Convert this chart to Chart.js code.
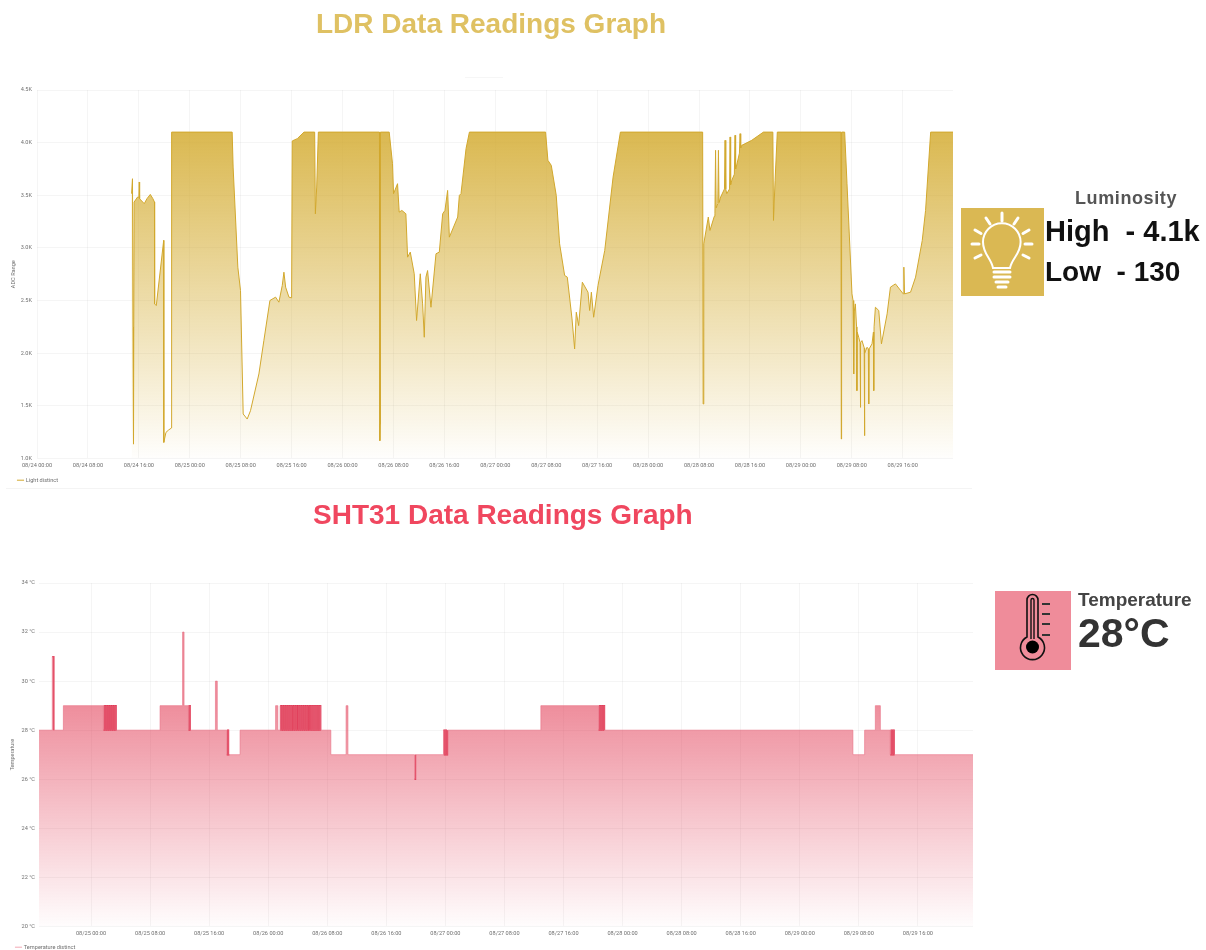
<!DOCTYPE html>
<html>
<head>
<meta charset="utf-8">
<script src="https://cdn.jsdelivr.net/npm/chart.js@4"></script>
<style>
html,body{margin:0;padding:0;background:#fff;width:1206px;height:950px;overflow:hidden;font-family:"Liberation Sans",Arial,sans-serif}
.abs{position:absolute}
canvas{position:absolute;filter:blur(.55px)}
.soft{filter:blur(.5px);white-space:pre;font-weight:bold;line-height:1}
</style>
</head>
<body>
<div class="abs soft" style="left:316px;top:10px;font-size:28px;color:#DFC163">LDR Data Readings Graph</div>
<div class="abs soft" style="left:313px;top:501px;font-size:28px;color:#F0475F">SHT31 Data Readings Graph</div>

<div class="abs" style="left:6px;top:488px;width:966px;height:1px;background:#f4f4f4"></div>
<div class="abs" style="left:465px;top:77px;width:38px;height:1px;background:#f6f6f6"></div>

<div style="position:absolute;left:0;top:80px;width:975px;height:413px"><canvas id="ldr"></canvas></div>
<div style="position:absolute;left:0;top:573px;width:985px;height:387px"><canvas id="sht"></canvas></div>

<svg class="abs" style="left:961px;top:208px;filter:blur(.4px)" width="83" height="88" viewBox="0 0 83 88">
  <rect width="83" height="88" fill="#DAB853"/>
  <g fill="none" stroke="#fff" stroke-linecap="round">
    <path stroke-width="2" d="M32 60 C30 50 22 46 22 34 A18.8 18.8 0 0 1 59.6 34 C59.6 46 51 50 49 60 Z"/>
    <g stroke-width="3">
      <path d="M41 5V13M25 10l4 6M57 10l-4 6M14 22l6 3.5M68 22l-6 3.5M11 36h7M71 36h-7M14 50l6-3M68 50l-6-3"/>
      <path d="M33 64H49M33 69H49M35 74H47M37 79H45"/>
    </g>
  </g>
</svg>
<div class="abs soft" style="left:1075px;top:189px;font-size:18px;letter-spacing:.6px;color:#555">Luminosity</div>
<div class="abs soft" style="left:1045px;top:217px;font-size:29px;color:#111">High  - 4.1k</div>
<div class="abs soft" style="left:1045px;top:258px;font-size:28px;color:#111">Low  - 130</div>

<svg class="abs" style="left:995px;top:591px;filter:blur(.4px)" width="76" height="79" viewBox="0 0 76 79">
  <rect width="76" height="79" fill="#EF8C9A"/>
  <g fill="none" stroke="#111">
    <path stroke-width="1.6" d="M32 46V9a5.5 5.5 0 0 1 11 0V46a12 12 0 1 1-11 0Z"/>
    <path stroke-width="1.4" d="M36 48V9a1.5 1.5 0 0 1 3 0V48"/>
    <path stroke-width="2" stroke="#333" d="M47 13h8M47 23h8M47 33h8M47 44h8"/>
  </g>
  <circle cx="37.5" cy="56" r="6.5" fill="#000"/>
</svg>
<div class="abs soft" style="left:1078px;top:590px;font-size:19px;color:#444">Temperature</div>
<div class="abs soft" style="left:1078px;top:613px;font-size:41px;color:#333">28°C</div>

<script>
const ldrHours = [
 14.86,15.0,15.1,15.12,15.2,15.25,15.33,15.8,16.0,16.06,16.12,16.85,17.27,17.8,18.21,18.46,18.48,18.74,19.9,19.92,20.26,20.68,21.13,21.15,
 30.66,30.81,31.55,31.97,32.39,33.02,33.54,34.86,35.64,36.59,37.48,38.0,38.53,38.79,39.06,39.58,40.0,40.1,40.89,41.94,43.62,43.73,43.94,44.2,
 53.8,53.86,53.9,53.95,55.33,55.85,56.01,56.64,56.9,57.32,57.95,58.22,58.64,59.26,59.63,60.21,60.58,60.84,61.1,61.36,61.89,62.68,63.2,63.73,64.09,64.51,64.78,66.09,66.35,66.61,67.4,67.93,
 79.9,80.26,80.79,81.57,82.1,82.89,83.31,84.05,84.46,84.72,85.09,85.67,86.56,86.82,87.09,87.45,88.13,89.19,90.5,91.65,
 104.57,104.65,104.75,105.46,105.72,106.4,106.5,106.6,106.7,106.95,107.05,107.15,107.4,108.0,108.09,108.2,108.35,108.8,108.88,108.97,109.14,109.55,109.66,109.75,109.82,110.35,110.45,110.55,110.71,112.28,114.12,115.6,115.7,115.95,116.3,
 126.3,126.35,126.4,126.88,127.25,128.03,128.2,128.3,128.4,128.56,128.75,128.8,128.85,129.09,129.3,129.35,129.4,129.6,129.95,129.99,130.05,130.4,130.6,130.66,130.72,131.18,131.4,131.45,131.5,131.71,132.24,132.66,133.55,134.07,134.86,136.08,136.18,136.28,137.23,138.02,139.07,139.59,140.39,143.9];
const ldrValues = [
 3515,3657,2246,1247,1136,3435,3435,3483,3480,3626,3467,3420,3467,3508,3467,3435,2468,2452,3071,1152,1247,1270,1289,4100,
 4100,3768,2817,2595,1422,1374,1453,1802,2119,2500,2532,2484,2643,2769,2627,2532,2525,4016,4038,4100,4100,3324,3578,4100,
 4100,1168,1327,4100,4100,3800,3515,3610,3340,3356,3324,2912,2960,2754,2310,2754,2468,2151,2722,2785,2436,2944,2960,3324,3356,3546,3102,3293,3499,3515,3943,4100,
 4100,3832,3784,3499,3039,2738,2722,2325,2040,2389,2262,2674,2579,2405,2579,2341,2643,2976,3673,4100,
 4100,1517,3039,3293,3166,3300,3324,3927,3380,3420,3927,3430,3483,3560,4022,3560,3515,3560,4054,3600,3640,3700,4070,3750,3760,3900,4085,3950,3974,4022,4100,4100,3261,3641,4100,
 4100,1184,4100,4100,3610,2563,2500,1802,2400,2468,2250,1644,2200,2151,2100,1485,2100,2119,2050,1216,2000,2056,2040,1517,2040,2088,2200,1644,2250,2436,2405,2088,2373,2627,2658,2563,2817,2563,2579,2722,3071,3356,4100,4100];

const tempHours = [
 16.95,18.75,18.95,20.25,
 25.67,25.8,25.93,26.06,26.19,26.32,26.45,26.58,26.71,26.84,26.97,27.1,27.23,27.36,27.39,
 33.35,36.4,36.6,37.19,37.3,37.42,37.5,
 40.85,41.1,42.38,42.5,42.62,42.74,44.19,
 49.0,49.3,49.61,49.74,49.87,50.0,50.13,50.26,50.39,50.52,50.65,50.78,50.91,51.04,51.17,51.36,51.49,51.62,51.75,51.88,52.07,52.2,52.33,52.46,52.59,52.72,52.85,52.98,53.11,53.24,53.37,53.56,53.75,53.88,54.01,54.14,54.27,54.4,54.53,54.66,54.79,54.92,55.03,55.1,
 56.48,58.55,58.8,67.82,67.95,
 71.74,71.87,72.0,72.13,72.28,
 84.93,92.74,92.87,93.0,93.13,93.26,93.39,93.55,
 127.2,128.79,130.24,130.92,132.26,132.39,132.52,132.65,132.78,132.85,143.47];
const tempValues = [
 28,31,28,29,
 28,29,28,29,28,29,28,29,28,29,28,29,28,29,28,
 29,32,29,28,29,28,28,
 30,28,27,28,27,27,28,
 29,28,
 29,28,29,28,29,28,29,28,29,28,29,28,29,28,29,28,29,28,29,28,29,28,29,28,29,28,29,28,29,28,29,28,29,28,29,28,29,28,29,28,29,28,
 27,29,27,26,27,
 28,27,28,27,28,
 29,28,29,28,29,28,29,28,
 27,28,29,28,27,28,27,28,27,27,27];

const ldrYTicks = {min:1000,max:4500,step:500};
const tempYTicks = {min:20,max:34,step:2};
const tickColor = '#707070';
const gridColor = 'rgba(0,0,0,0.04)';
const smallFont = {family:'Roboto',size:5.6};

function hourLabel(h){
  const d = 24 + Math.floor(h/24), hh = h % 24;
  return '08/' + d + ' ' + String(hh).padStart(2,'0') + ':00';
}
function fillGradient(rgb, topAlpha, topValue){
  return function(ctx){
    const c = ctx.chart, a = c.chartArea;
    if(!a) return 'transparent';
    const g = c.ctx.createLinearGradient(0, c.scales.y.getPixelForValue(topValue), 0, a.bottom);
    g.addColorStop(0, 'rgba('+rgb+','+topAlpha+')');
    g.addColorStop(1, 'rgba('+rgb+',0.01)');
    return g;
  };
}
function xAxis(min,max,h){
  return {type:'linear',min,max,
    afterFit:s=>{s.height=h},
    border:{display:false},
    grid:{color:gridColor,drawTicks:false},
    ticks:{stepSize:8,includeBounds:false,autoSkip:false,maxRotation:0,padding:4,color:tickColor,font:smallFont,callback:hourLabel}};
}
function yAxis(cfg,w,pad,title,fmt){
  return {min:cfg.min,max:cfg.max,
    afterFit:s=>{s.width=w},
    border:{display:false},
    grid:{color:gridColor,drawTicks:false},
    title:{display:true,text:title,color:tickColor,font:smallFont,padding:{top:0,bottom:0}},
    ticks:{stepSize:cfg.step,padding:pad,color:tickColor,font:smallFont,callback:fmt}};
}
function legend(pad){
  return {position:'bottom',align:'start',
    labels:{usePointStyle:true,pointStyle:'line',boxWidth:5,boxHeight:5,padding:pad,color:tickColor,font:smallFont,
      filter:item=>!item.text.startsWith('_')}};
}
function points(xs,ys){return xs.map((x,i)=>({x,y:ys[i]}));}
function densePoints(xs,ys){
  const out = [];
  xs.forEach((x,i)=>{
    const nearPrev = i>0 && x-xs[i-1]<=0.2;
    const nearNext = i<xs.length-1 && xs[i+1]-x<=0.2;
    if(!nearPrev) out.push({x, y:null});
    if(nearPrev || nearNext) out.push({x, y:ys[i]});
  });
  return out;
}

new Chart(document.getElementById('ldr'),{
  type:'line',
  data:{datasets:[{label:'Light distinct',data:points(ldrHours,ldrValues),
    borderColor:'#D2A82E',borderWidth:1,pointRadius:0,tension:0,fill:'start',
    backgroundColor:fillGradient('212,172,50',0.85,4100)}]},
  options:{responsive:true,maintainAspectRatio:false,animation:false,
    layout:{padding:{left:10,right:22,top:10,bottom:0}},
    plugins:{legend:legend(8),tooltip:{enabled:false}},
    scales:{x:xAxis(0,143.9,11),
      y:yAxis(ldrYTicks,27,5,'ADC Range',v=>(v/1000).toFixed(1)+'K')}}
});

new Chart(document.getElementById('sht'),{
  type:'line',
  data:{datasets:[
    {label:'Temperature distinct',data:points(tempHours,tempValues),
     stepped:true,borderColor:'rgba(232,110,130,0.6)',borderWidth:1,pointRadius:0,fill:'start',
     backgroundColor:fillGradient('226,60,85',0.58,29)},
    {label:'_dense',data:densePoints(tempHours,tempValues),
     stepped:true,borderColor:'#DF2C4B',borderWidth:1.4,pointRadius:0,fill:false}
  ]},
  options:{responsive:true,maintainAspectRatio:false,animation:false,
    layout:{padding:{left:9,right:12,top:10,bottom:0}},
    plugins:{legend:legend(7),tooltip:{enabled:false}},
    scales:{x:xAxis(16.95,143.47,11),
      y:yAxis(tempYTicks,30,4,'Temperature',v=>v+' °C')}}
});
</script>
</body>
</html>
